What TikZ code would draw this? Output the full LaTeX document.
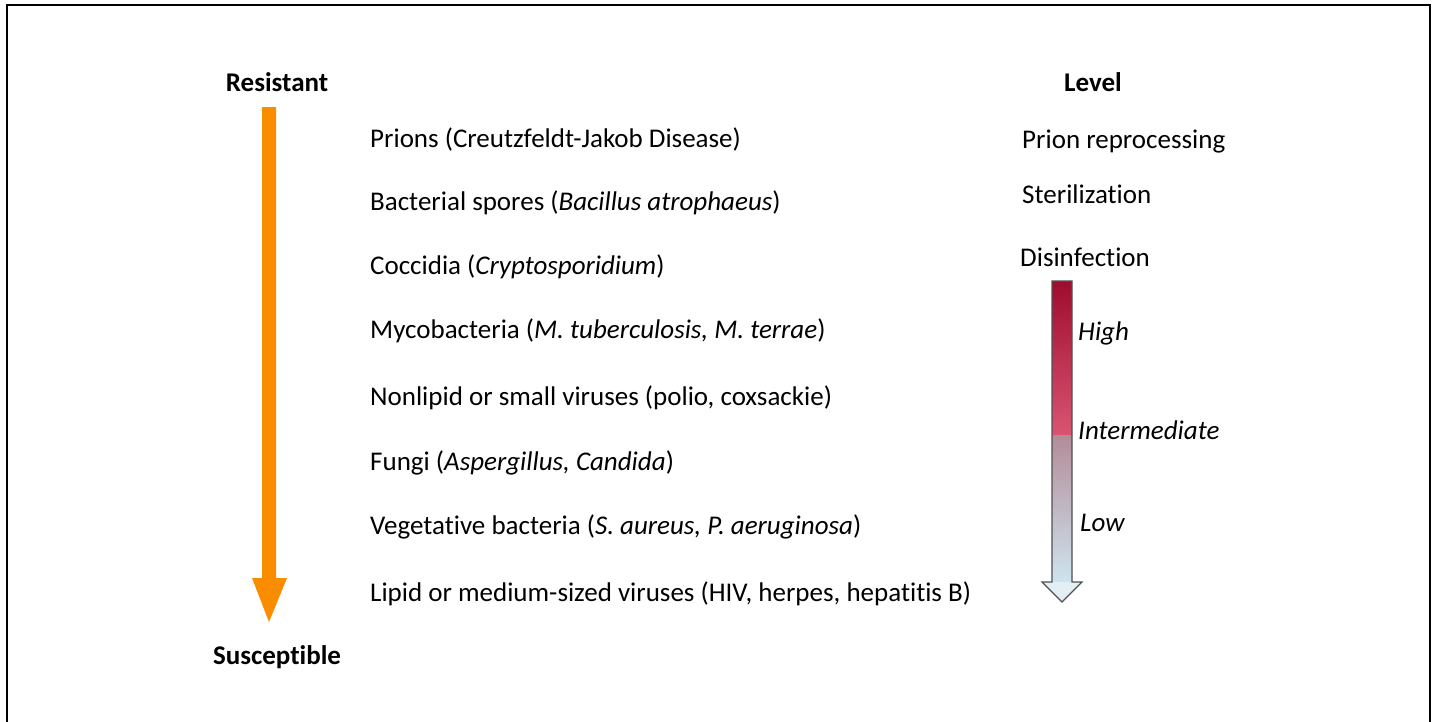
\documentclass[tikz,border=0pt]{standalone}
\usepackage{fontspec}
\setmainfont{Carlito}[Ligatures=NoCommon]
\definecolor{resist}{RGB}{250,140,0}
\definecolor{highred}{RGB}{158,12,46}
\definecolor{midred}{RGB}{218,84,114}
\definecolor{midgray}{RGB}{178,140,152}
\definecolor{lowblue}{RGB}{206,228,238}
\definecolor{edge}{RGB}{80,80,80}
\usetikzlibrary{positioning}

\begin{document}
\begin{tikzpicture}[x=1pt,y=-1pt,
    organism/.style={anchor=west,inner sep=0pt,text height=0.75em,text depth=0.25em,
      yshift=-7pt,font=\fontsize{27}{30}\selectfont},
    heading/.style={organism,anchor=center,font=\fontsize{27}{30}\selectfont\bfseries},
    grade/.style={organism,font=\fontsize{27}{30}\selectfont\itshape}]
  \useasboundingbox (0,0) rectangle (1437,721);
  \draw[line width=2.5pt] (7,730) -- (7,5) -- (1430,5) -- (1430,730);
  % resistance axis
  \node[heading] (resistant) at (277,82) {Resistant};
  \node[heading] (susceptible) at (277,655) {Susceptible};
  \fill[resist] (262,107) -- (276,107) -- (276,578) -- (287,578) -- (269,622)
    -- (252,578) -- (262,578) -- cycle;
  % organisms
  \node[organism] (prions) at (370,138) {Prions (Creutzfeldt-Jakob Disease)};
  \node[organism] (spores) at (370,201) {Bacterial spores (\textit{Bacillus atrophaeus})};
  \node[organism] (coccidia) at (370,265) {Coccidia (\textit{Cryptosporidium})};
  \node[organism] (mycobact) at (370,329) {Mycobacteria (\textit{M. tuberculosis, M. terrae})};
  \node[organism] (nonlipid) at (370,396) {Nonlipid or small viruses (polio, coxsackie)};
  \node[organism] (fungi) at (370,461) {Fungi (\textit{Aspergillus, Candida})};
  \node[organism] (vegbact) at (370,525) {Vegetative bacteria (\textit{S. aureus, P. aeruginosa})};
  \node[organism] (lipid) at (370,592) {Lipid or medium-sized viruses (HIV, herpes, hepatitis B)};
  % levels
  \node[heading] (level) at (1093,82) {Level};
  \node[organism] (reproc) at (1022,139) {Prion reprocessing};
  \node[organism] (steril) at (1022,194) {Sterilization};
  \node[organism] (disinf) at (1020,257) {Disinfection};
  \shade[top color=highred,bottom color=midred] (1052,281) rectangle (1072,435);
  \shade[top color=midgray,bottom color=lowblue] (1052,435) rectangle (1072,582);
  \fill[lowblue!60!white] (1042,582) -- (1082,582) -- (1062,602) -- cycle;
  \draw[edge,line width=1.2pt] (1052,281) -- (1072,281) -- (1072,582) -- (1082,582)
    -- (1062,602) -- (1042,582) -- (1052,582) -- cycle;
  \node[grade] (high) at (1078,331) {High};
  \node[grade] (inter) at (1078,430) {Intermediate};
  \node[grade] (low) at (1080,522) {Low};
\end{tikzpicture}
\end{document}
